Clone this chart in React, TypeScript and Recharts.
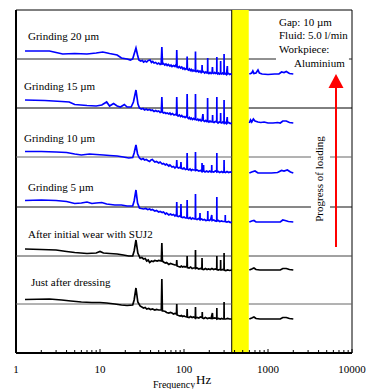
import { Line, LineChart, ReferenceArea, ReferenceLine, XAxis, YAxis } from "recharts";

// relative level of each spectrum (above its own zero line), [Hz, level]
type Pt = [number, number | null];

const G20: Pt[] = [
  [1.28, 8], [2.5, 8], [3.0, 6.5], [3.6, 5], [5, 5.5], [7, 5], [9, 6], [10.8, 7], [13, 5.5], [16, 4], [18, 1],
  [21, 0], [23, -1], [24.5, 0], [25.5, 5], [26.8, 11], [28, 4],
  [29, -1], [30.5, -2], [32, -1.5], [33, -3], [34.5, -2], [36, -3], [37.5, -1.5], [39.5, -1], [41, -3.5],
  [42.5, -2.5], [44, -4], [46, -3.5], [48, -5], [50, -4], [52, -5.5], [53.5, -5], [54.5, 12], [55.5, -5], [57, -4.5],
  [59, -6], [61, -5], [63, -6.5], [65, -5.5], [68, -7], [70, -6], [72, -7.5], [75, -6.5], [78, -7.5], [80, -6],
  [81.3, -7], [82, 9], [82.8, -7.5], [86, -8.5], [88, -7.5], [91, -9], [94, -8], [97, -10], [100, -9], [103, -10.5],
  [106, -9.5], [108.2, -10], [109, 2.5], [109.8, -10], [113, -11], [116, -10], [119, -11.5], [122, -10.5], [125, -12],
  [128, -11], [131, -12], [134, -11.5], [136.3, -12], [137, 7.5], [137.8, -12], [142, -12.5], [146, -11.5], [150, -13],
  [155, -12], [160, -13.5], [163.5, -12.5], [164.2, -6], [165, -13], [170, -12.5], [176, -14], [182, -13], [187, -14],
  [190.8, -13.5], [191.5, 1], [192.2, -13.5], [198, -14.5], [204, -13.5], [210, -14.5], [216, -13.5], [218, -8],
  [220, -14], [226, -14.5], [232, -13.5], [238, -14.5], [245.3, -14], [246, 2], [246.7, -14], [252, -15], [258, -14],
  [264, -15], [272.3, -14], [273, -2], [273.7, -14.5], [280, -15], [288, -14], [294, -15], [299.3, -15], [300, 5],
  [300.7, -15], [310, -14.5], [320, -15.5], [328, -7], [330, -15], [340, -14.5], [350, -15.5], [360, -15], [370, -15.5],
  [480, null], [600, -15], [640, -14], [660, -12], [680, -14.5], [720, -14], [760, -11], [790, -14], [850, -15],
  [1000, -15.5], [1200, -15], [1350, -15], [1450, -13], [1550, -13.5], [1650, -12.5], [1800, -14.5], [2000, -15],
];

const G15: Pt[] = [
  [1.28, 8], [2.2, 7.5], [3.5, 6.5], [4.3, 6], [5, 3.5], [7, 2.5], [9, 2], [10.5, 3], [12, 6], [13, 2], [14.5, 4.5],
  [16, 2], [17.5, 1], [19.5, 3.5], [21, 1], [23.5, 1], [25, 6], [26.8, 18], [28.3, 4],
  [29.5, 0], [31, -1], [32.5, -0.5], [34, -2], [35.5, -1], [37, -2], [39, -1.5], [40.5, -2.5], [42, -2], [44, -3.5],
  [46, -2.5], [48, -3.5], [50, -3], [52, -4.5], [53.7, -4], [54.5, 11], [55.3, -4], [57, -5], [59, -4.5], [61, -5.5],
  [63, -5], [66, -6], [68, -5], [70, -6.5], [73, -5.5], [76, -7], [79, -6.5], [81.3, -7], [82, 11], [82.8, -7],
  [85, -8], [88, -7], [91, -8.5], [94, -7.5], [97, -9], [100, -8.5], [103, -9.5], [106, -8.5], [108.3, -9], [109, 14],
  [109.8, -9.5], [113, -10.5], [116, -9.5], [119, -11], [122, -10], [126, -11.5], [130, -10.5], [134, -11.5],
  [136.3, -11], [137, 14], [137.8, -11.5], [142, -12], [146, -11], [150, -12.5], [155, -11.5], [160, -13], [164, -12],
  [168, -6], [170, -12.5], [176, -13.5], [182, -12.5], [187, -13.5], [190.3, -13], [191, 10], [191.7, -13], [198, -14],
  [204, -13], [210, -14], [218, -13], [219, -7], [220, -14], [228, -14.5], [236, -13.5], [245.3, -14], [246, 11],
  [246.7, -14], [254, -15], [262, -14], [272, -14.5], [273, -5], [274, -14.5], [282, -15], [290, -14], [299.3, -15],
  [300, 8], [300.7, -15], [310, -14.5], [320, -15.5], [327, -9], [329, -15], [340, -14.5], [355, -15.5], [370, -15],
  [480, null], [600, -15], [620, -12], [640, -14], [670, -11], [700, -13], [760, -14], [820, -14.5], [900, -14],
  [1000, -15], [1150, -15], [1300, -14.5], [1400, -15], [1500, -13], [1650, -13], [1800, -14.5], [2000, -15],
];

const G10: Pt[] = [
  [1.28, 5.5], [2, 5.5], [3, 5], [4, 4.5], [5, 3], [6, 2], [7.5, 3], [9, 2.5], [11, 2], [13, 1.5], [16, 1], [19, 0],
  [22, -1], [24.5, -0.5], [25.5, 4], [26.8, 12], [28, 3],
  [29.5, -1], [31, -2.5], [32.5, -1.5], [34, -3], [35.5, -2.5], [37, -3.5], [39, -4.5], [40.5, -3], [42, -2.5],
  [43.5, -4], [45, -5], [47, -4.5], [50, -6], [52, -5], [55, -7], [57, -6.5], [60, -8], [62, -7], [66, -9], [68, -8],
  [72, -10], [75, -9.5], [78, -11], [80, -10], [81.3, -10], [82, -3], [82.7, -10], [86, -11], [89, -10.5],
  [91.3, -11], [92, -5], [92.7, -11], [97, -12], [100, -11], [104, -12.5], [108.3, -12], [109, 4], [109.7, -12],
  [114, -13], [118, -12], [122, -13.5], [126, -12.5], [130, -13], [136.3, -13], [137, 5], [137.7, -13.5], [143, -13],
  [150, -14], [157, -13.5], [163.3, -14.5], [164, -6], [164.7, -14.5], [170.3, -14], [171, -8], [171.7, -14],
  [178, -15], [186, -14], [194, -15], [202, -14], [210, -15], [213.3, -14], [214, -8], [214.7, -14.5], [226, -15],
  [236, -14], [245.3, -14.5], [246, 4], [246.7, -15], [256, -14.5], [266, -15.5], [280, -14.5], [290, -15.5],
  [299.3, -15], [300, -3], [300.7, -15], [312, -15.5], [325, -14.5], [340, -15.5], [355, -15], [370, -15.5],
  [480, null], [600, -16], [640, -15], [700, -14], [760, -16], [900, -16], [1100, -16], [1300, -15.5], [1450, -13.5],
  [1550, -14], [1700, -13], [1850, -15], [2000, -16],
];

const G5: Pt[] = [
  [1.28, 6.5], [2, 7], [3, 6.5], [4, 5.5], [5, 3.5], [6, 4], [7, 5], [8, 3.5], [9, 4], [10.5, 4.5], [12, 3], [15, 2],
  [18, 2], [21, 1], [24.5, 1], [25.5, 6], [26.8, 17], [28, 4],
  [29.5, -1], [31, -1.5], [33, -2], [35, -1.5], [37, -2.5], [39, -2], [40.5, -3], [42, -2.5], [45, -4], [47, -3.5],
  [50, -5], [52, -4.5], [55, -5.5], [57, -5], [60, -7], [62, -6], [66, -8], [69, -7], [72, -8], [75, -7.5], [78, -9],
  [80, -8], [81.3, -8.5], [82, 5], [82.7, -9], [86, -9.5], [89, -9], [91.3, -9.5], [92, 3], [92.7, -10], [97, -10.5],
  [100, -10], [104, -11], [108.3, -11], [109, 7], [109.7, -11], [114, -11.5], [118, -10.5], [122, -12], [127, -11],
  [132, -12], [136.3, -12], [137, 13], [137.7, -12], [143, -12.5], [149, -11.5], [154.3, -12.5], [155, -6],
  [155.7, -12.5], [162, -12], [168, -13], [175, -12.5], [182, -13.5], [191.3, -13], [192, -4], [192.7, -13],
  [200, -13.5], [208, -12.5], [214, -8], [216, -13.5], [226, -13], [236, -14], [245.3, -13.5], [246, 10], [246.7, -14],
  [256, -13.5], [266, -14.5], [280, -14], [290, -14.5], [300, -14.5], [309.3, -14.5], [310, -8], [310.7, -14.5],
  [325, -15], [340, -14.5], [355, -15.5], [370, -15],
  [480, null], [600, -15], [640, -14], [680, -13.5], [720, -15], [800, -15], [1000, -15], [1200, -15], [1400, -15],
  [1500, -13], [1600, -13.5], [1750, -14.5], [2000, -15],
];

const WEAR: Pt[] = [
  [1.28, 7], [2, 6.5], [3, 6], [4, 4.5], [5, 3.5], [7, 2.5], [9, 3], [10, 4.5], [11, 3], [13, 2.5], [16, 2], [19, 1],
  [22, 0], [24.5, 0], [25.5, 5], [26.8, 16], [28.2, 3],
  [30, -2], [31.5, -1.5], [33, -3], [34.5, -2.5], [36, -5], [37.5, -4], [39, -6.5], [41, -5], [43, -5.5], [45, -4.5],
  [48, -5], [50, -4.5], [53.7, -5], [54.5, 13], [55.3, -5], [57, -6], [60, -7], [62, -6.5], [66, -8.5], [69, -7.5],
  [72, -8], [75, -8.5], [78, -9], [81.3, -9], [82, -4], [82.7, -10], [86, -10.5], [90, -11], [93, -10], [96, -11],
  [100, -10.5], [103, -11], [106, -10.5], [108.3, -11], [109, 0], [109.7, -11.5], [115, -12], [120, -11], [125, -12.5],
  [130, -12], [136.3, -12], [137, 6], [137.7, -12.5], [143, -12], [150, -13], [157, -12.5], [163.3, -13], [164, -2],
  [164.7, -13], [172, -13.5], [180, -12.5], [188, -13.5], [196, -13], [205, -13.5], [215, -12.5], [225, -13.5],
  [235, -13], [245.3, -13.5], [246, 0], [246.7, -13.5], [256, -14], [265, -13.5], [272.3, -13.5], [273, -4],
  [273.7, -14], [282, -14], [290, -13.5], [299.3, -14], [300, 3], [300.7, -14], [315, -14.5], [330, -14], [350, -14.5],
  [370, -14],
  [480, null], [600, -14], [640, -13], [680, -12], [720, -13.5], [800, -14], [1000, -14], [1200, -14], [1400, -14],
  [1500, -12.5], [1650, -12.5], [1800, -13.5], [2000, -14],
];

const DRESS: Pt[] = [
  [1.28, 4.5], [2.5, 5], [3.5, 4], [4.5, 3], [6, 2], [8, 1.5], [10, 1.5], [12, 1], [15, 0], [18, -1], [21, -1.5],
  [24.5, -1], [25.5, 4], [26.8, 16], [28.2, 2],
  [30, -2], [31.5, -3], [33, -4], [34.5, -3.5], [36, -5], [38, -4.5], [40, -5.5], [42, -5], [45, -6], [47, -5.5],
  [50, -6], [53.7, -6], [54.5, 25], [55.3, -7], [57, -7], [60, -7.5], [62, -8.5], [66, -9], [69, -8.5], [72, -9],
  [75, -10], [78, -9.5], [81.3, -10], [82, 0], [82.7, -11], [86, -11.5], [90, -12], [93, -11.5], [96, -12.5],
  [100, -12], [103, -12.5], [108.3, -13], [109, -5], [109.7, -13], [115, -13.5], [120, -12.5], [125, -13.5],
  [130, -13], [136.3, -14], [137, -3], [137.7, -14], [143, -13.5], [150, -14], [157, -13], [164.3, -13.5], [165, -8],
  [165.7, -14], [172, -14.5], [180, -13.5], [190, -14.5], [200, -14], [210, -14.5], [218, -9], [220, -14.5],
  [232, -14], [245.3, -14.5], [246, -4], [246.7, -15], [258, -14.5], [270, -15], [280, -14.5], [290, -15],
  [299.3, -15], [300, 2], [300.7, -15], [315, -15], [330, -14.5], [350, -15], [370, -15],
  [480, null], [600, -15], [640, -14], [680, -13], [720, -14.5], [800, -15], [1000, -15], [1200, -15], [1400, -15],
  [1500, -13.5], [1650, -13.5], [1800, -14.5], [2000, -15],
];

// zero lines, broken where the yellow band and the notes sit
const BASE_TOP: Pt[] = [[1, 0], [370, 0], [480, null], [590, 0], [1245, 0], [3000, null], [9200, 0], [10000, 0]];
const BASE_FULL: Pt[] = [[1, 0], [370, 0], [480, null], [590, 0], [10000, 0]];
const BASE_GAP: Pt[] = [[1, 0], [370, 0], [480, null], [590, 0], [3250, 0], [4200, null], [5470, 0], [10000, 0]];

const LABELS = [
  "Grinding 20 µm",
  "Grinding 15 µm",
  "Grinding 10 µm",
  "Grinding 5 µm",
  "After initial wear with SUJ2",
  "Just after dressing",
];
const SPECTRA = [G20, G15, G10, G5, WEAR, DRESS];
const BASES = [BASE_TOP, BASE_FULL, BASE_GAP, BASE_GAP, BASE_FULL, BASE_FULL];
const OFFSETS = [294, 245, 196, 146, 97, 49];
const COLORS = ["#0000ff", "#0000ff", "#0000ff", "#0000ff", "#000000", "#000000"];
const BASE_COLORS = ["#222", "#000", "#666", "#111", "#444", "#666"];

const DECADES = [1, 10, 100, 1000, 10000];
const TICKS = [
  1, 2, 3, 4, 5, 6, 7, 8, 9, 10, 20, 30, 40, 50, 60, 70, 80, 90, 100, 200, 300, 400, 500, 600, 700, 800, 900,
  1000, 2000, 3000, 4000, 5000, 6000, 7000, 8000, 9000, 10000,
];

const BAND: [number, number] = [370, 590];

const FONT = "Liberation Serif, Times New Roman, serif";

function shift(pts: Pt[], off: number) {
  return pts.map(([f, v]) => ({ f, v: v === null ? null : off + v }));
}

function FreqTick(props: any) {
  const { x, y, payload } = props;
  const major = DECADES.includes(payload.value);
  return (
    <g>
      <line x1={x} x2={x} y1={y} y2={y - (major ? 4 : 3)} stroke="#000" />
      {major && (
        <text x={x} y={y + 20} textAnchor="middle" fill="#000" style={{ fontFamily: FONT, fontSize: 11 }}>
          {payload.value}
        </text>
      )}
    </g>
  );
}

const labelPos = [
  [28, 40],
  [24, 90],
  [24, 142],
  [28, 191],
  [28, 238],
  [31, 286],
];

export default function App() {
  return (
    <div style={{ position: "absolute", left: 0, top: 0, width: 368, height: 389, background: "#fff", fontFamily: FONT }}>
      <LineChart width={368} height={389} margin={{ top: 10, right: 16, bottom: 0, left: 16 }}>
        <XAxis
          dataKey="f"
          type="number"
          scale="log"
          domain={[1, 10000]}
          allowDataOverflow
          ticks={TICKS}
          interval={0}
          tickSize={0}
          tickMargin={0}
          tick={<FreqTick />}
          height={36}
          axisLine={{ stroke: "#000", strokeWidth: 2 }}
        />
        <YAxis hide type="number" domain={[0, 343]} allowDataOverflow />
        <ReferenceArea x1={1} x2={10000} y1={0} y2={343} fill="none" stroke="#000" strokeWidth={1} />
        <ReferenceArea x1={BAND[0]} x2={BAND[1]} y1={0} y2={343} fill="#ffff00" fillOpacity={1} stroke="none" />
        <ReferenceLine x={BAND[0]} stroke="#000" strokeWidth={1} />
        <ReferenceLine x={1} stroke="#000" strokeWidth={2} />
        {BASES.map((b, i) => (
          <Line
            key={"b" + i}
            data={shift(b, OFFSETS[i])}
            dataKey="v"
            type="linear"
            stroke={BASE_COLORS[i]}
            strokeWidth={1}
            dot={false}
            activeDot={false}
            isAnimationActive={false}
          />
        ))}
        {SPECTRA.map((s, i) => (
          <Line
            key={"s" + i}
            data={shift(s, OFFSETS[i])}
            dataKey="v"
            type="linear"
            stroke={COLORS[i]}
            strokeWidth={1.7}
            dot={false}
            activeDot={false}
            isAnimationActive={false}
          />
        ))}
      </LineChart>
      <svg width={368} height={389} style={{ position: "absolute", left: 0, top: 0, pointerEvents: "none" }}>
        <g style={{ fontFamily: FONT, fontSize: 11 }} fill="#000">
          {LABELS.map((t, i) => (
            <text key={t} x={labelPos[i][0]} y={labelPos[i][1]}>
              {t}
            </text>
          ))}
          <text x={279} y={26}>Gap: 10 µm</text>
          <text x={279} y={39}>Fluid: 5.0 l/min</text>
          <text x={279} y={53}>Workpiece:</text>
          <text x={294} y={67}>Aluminium</text>
          <text x={319} y={179} textAnchor="middle" dominantBaseline="central" transform="rotate(-90 319 179)">
            Progress of loading
          </text>
          <text x={153} y={388} style={{ fontSize: 10 }}>Frequency</text>
          <text x={196} y={384} style={{ fontSize: 13 }}>Hz</text>
        </g>
        <line x1={336} x2={336} y1={247} y2={86} stroke="#ff0000" strokeWidth={2} />
        <polygon points="336,74 328.5,88 343.5,88" fill="#ff0000" />
      </svg>
    </div>
  );
}
